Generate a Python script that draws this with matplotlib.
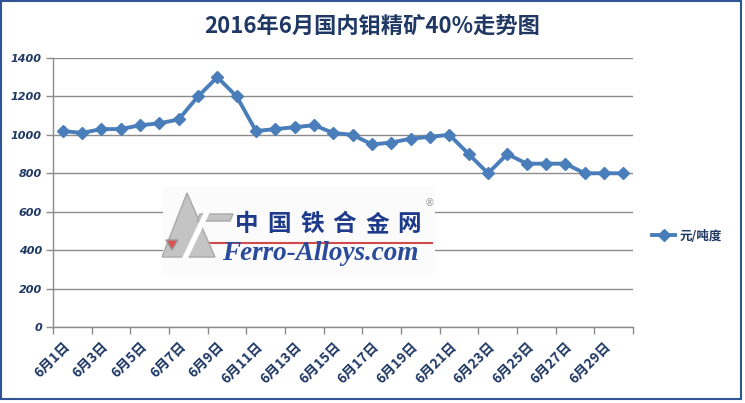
import numpy as np
import matplotlib.pyplot as plt
from matplotlib.patches import Rectangle, Polygon
from matplotlib.lines import Line2D

plt.rcParams['font.family'] = ['Noto Sans CJK SC', 'DejaVu Sans']

W, H = 745, 403

days = [f'6月{d}日' for d in range(1, 31)]
prices = [1020, 1010, 1030, 1030, 1050, 1060, 1080, 1200, 1300, 1200,
          1020, 1030, 1040, 1050, 1010, 1000, 950, 960, 980, 990,
          1000, 900, 800, 900, 850, 850, 850, 800, 800, 800]
yticks = [0, 200, 400, 600, 800, 1000, 1200, 1400]
title = '2016年6月国内钼精矿40%走势图'
series_name = '元/吨度'

navy = '#1F3864'
blue = '#4A7EBB'


def px(x, y):
    # pixel coords of the reference -> figure fraction
    return x / W, 1 - y / H


fig = plt.figure(figsize=(W / 100, H / 100), dpi=100)
ax = fig.add_axes([53 / W, 1 - 327 / H, (633 - 53) / W, (327 - 58) / H])

x = np.arange(len(prices))
ax.plot(x, prices, color=blue, lw=2.8, marker='D', ms=6, zorder=5,
        label=series_name)

ax.set_xlim(-0.5, len(prices) - 0.5)
ax.set_ylim(0, 1400)
ax.set_yticks(yticks)
ax.set_yticklabels([str(v) for v in yticks], fontsize=8, fontweight='bold',
                   fontstyle='italic', color=navy, family='DejaVu Sans')
ax.grid(axis='y', color='#8c8c8c', lw=1, zorder=0)
ax.set_axisbelow(True)

ax.set_xticks(x[::2])
ax.set_xticklabels(days[::2], rotation=45, ha='right', rotation_mode='anchor',
                   fontsize=10, fontweight='bold', color=navy)
ax.set_xticks(np.arange(-0.5, len(prices), 2), minor=True)
ax.tick_params(axis='x', which='major', length=0, pad=9)
ax.tick_params(axis='x', which='minor', length=5, color='#8c8c8c', width=1)
ax.tick_params(axis='y', length=5, color='#8c8c8c', width=1, pad=3)

for s in ['top', 'right']:
    ax.spines[s].set_visible(False)
for s in ['left', 'bottom']:
    ax.spines[s].set_color('#8c8c8c')
    ax.spines[s].set_linewidth(1)

fig.text(0.5, 1 - 26 / H, title, ha='center', va='center', fontsize=16,
         fontweight='bold', color=navy)

leg = fig.legend(loc='center left', bbox_to_anchor=px(641, 236), frameon=False,
                 handlelength=1.8, handletextpad=0.4,
                 prop={'size': 9, 'weight': 'bold'})
for t in leg.get_texts():
    t.set_color(navy)

# watermark logo
fig.patches.append(Rectangle(px(163, 275), 272 / W, 88 / H, transform=fig.transFigure,
                             facecolor='#fbfbfb', edgecolor='none', zorder=2))
gray = '#c4c4c4'
fig.patches.append(Polygon([px(187, 193), px(162, 257), px(215, 257)], closed=True,
                           transform=fig.transFigure, facecolor=gray,
                           edgecolor='#a9a9a9', zorder=3))
fig.patches.append(Polygon([px(200, 214), px(233, 214), px(230, 221), px(197, 221)],
                           closed=True, transform=fig.transFigure, facecolor=gray,
                           edgecolor='#a9a9a9', zorder=3))
fig.patches.append(Polygon([px(182, 258), px(205, 210), px(211, 210), px(188, 258)],
                           closed=True, transform=fig.transFigure, facecolor='white',
                           edgecolor='none', zorder=3))
fig.patches.append(Polygon([px(166, 240), px(178, 240), px(172, 250)], closed=True,
                           transform=fig.transFigure, facecolor='#d9534f',
                           edgecolor='#999999', zorder=3))
fig.lines.append(Line2D([200 / W, 432 / W], [1 - 243 / H] * 2, transform=fig.transFigure,
                        color='#d04a4a', lw=1.5, zorder=3))
for i, ch in enumerate('中国铁合金网'):
    fig.text((247 + i * 32.5) / W, 1 - 224 / H, ch, ha='center', va='center',
             fontsize=17, fontweight='bold', color='#1e3a8a', zorder=4)
fig.text(320 / W, 1 - 254 / H, 'Ferro-Alloys.com', ha='center', va='center',
         fontsize=19.5, fontweight='bold', fontstyle='italic', color='#2a4a9c',
         family='Liberation Serif', zorder=4)
fig.text(429 / W, 1 - 203 / H, '®', ha='center', va='center', fontsize=7,
         color='#999999', family='DejaVu Sans', zorder=4)

# chart border
fig.patches.append(Rectangle((0.5 / W, 1 - 399 / H), 740.5 / W, 398 / H,
                             transform=fig.transFigure, facecolor='none',
                             edgecolor='#2F5597', lw=1.5, zorder=10))

fig.savefig('out.png', dpi=100)
